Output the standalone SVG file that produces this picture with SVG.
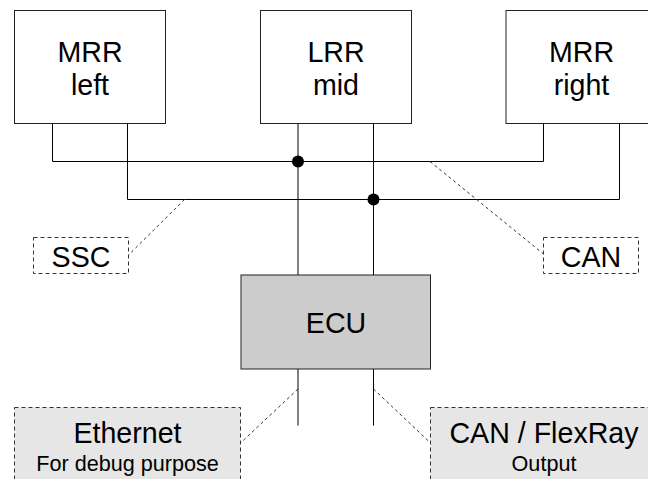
<svg xmlns="http://www.w3.org/2000/svg" width="648" height="479" viewBox="0 0 648 479">
  <style>
    .box { fill: #ffffff; stroke: #222222; stroke-width: 1; }
    .ecu { fill: #cccccc; stroke: #222222; stroke-width: 1; }
    .tag { fill: #ffffff; stroke: #333333; stroke-width: 1; stroke-dasharray: 4 3; }
    .tag-grey { fill: #e6e6e6; stroke: #333333; stroke-width: 1; stroke-dasharray: 4 3; }
    .bus { fill: none; stroke: #000000; stroke-width: 1; }
    .lead { fill: none; stroke: #333333; stroke-width: 1; stroke-dasharray: 3 3; }
    .big { font-family: "Liberation Sans", Arial, sans-serif; font-size: 28.6px; fill: #000000; text-anchor: middle; }
    .small { font-family: "Liberation Sans", Arial, sans-serif; font-size: 21.6px; fill: #000000; text-anchor: middle; }
  </style>

  <!-- bus wiring between sensors and ECU -->
  <g id="connectors">
    <!-- first bus (upper) -->
    <polyline class="bus" points="52.5,124 52.5,161.5 543.5,161.5 543.5,124"/>
    <!-- second bus (lower) -->
    <polyline class="bus" points="127.5,124 127.5,199.5 619.5,199.5 619.5,124"/>
    <!-- LRR to ECU -->
    <line class="bus" x1="298" y1="124" x2="298" y2="275"/>
    <line class="bus" x1="373.5" y1="124" x2="373.5" y2="275"/>
    <!-- ECU outputs -->
    <line class="bus" x1="298" y1="369" x2="298" y2="425.5"/>
    <line class="bus" x1="373.5" y1="369" x2="373.5" y2="425.5"/>
    <!-- junctions -->
    <circle cx="298" cy="161.5" r="6" fill="#000000"/>
    <circle cx="373.5" cy="199.5" r="6" fill="#000000"/>
    <!-- label leaders -->
    <line class="lead" x1="184.5" y1="199.5" x2="128.5" y2="255"/>
    <line class="lead" x1="430" y1="161.5" x2="543.5" y2="254"/>
    <line class="lead" x1="298" y1="389" x2="240.5" y2="443"/>
    <line class="lead" x1="373.5" y1="389" x2="430.5" y2="443"/>
  </g>

  <g id="mrr-left">
    <rect class="box" x="14.5" y="10.5" width="151" height="113"/>
    <text class="big" x="90" y="61.5">MRR</text>
    <text class="big" x="90" y="94.5">left</text>
  </g>

  <g id="lrr-mid">
    <rect class="box" x="260.5" y="10.5" width="151" height="113"/>
    <text class="big" x="336" y="61.5">LRR</text>
    <text class="big" x="336" y="94.5">mid</text>
  </g>

  <g id="mrr-right">
    <rect class="box" x="506" y="10.5" width="151" height="113"/>
    <text class="big" x="581.5" y="61.5">MRR</text>
    <text class="big" x="581.5" y="94.5">right</text>
  </g>

  <g id="ssc">
    <rect class="tag" x="33.5" y="237.5" width="95" height="36"/>
    <text class="big" x="81" y="266.5">SSC</text>
  </g>

  <g id="can">
    <rect class="tag" x="543.5" y="237.5" width="95" height="36"/>
    <text class="big" x="591" y="266.5">CAN</text>
  </g>

  <g id="ecu">
    <rect class="ecu" x="241" y="275" width="189.5" height="94"/>
    <text class="big" x="336" y="332.5">ECU</text>
  </g>

  <g id="ethernet">
    <rect class="tag-grey" x="14.5" y="407.5" width="226" height="90"/>
    <text class="big" x="127.5" y="442.5">Ethernet</text>
    <text class="small" x="127.5" y="470.5">For debug purpose</text>
  </g>

  <g id="can-flexray">
    <rect class="tag-grey" x="430.5" y="407.5" width="226" height="90"/>
    <text class="big" x="544" y="442.5">CAN / FlexRay</text>
    <text class="small" x="544" y="470.5">Output</text>
  </g>
</svg>
